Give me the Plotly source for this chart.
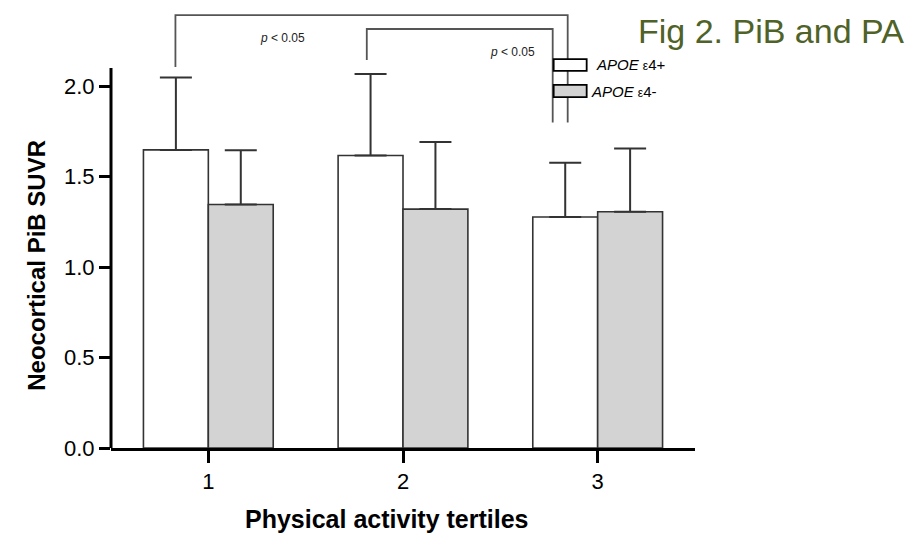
import plotly.graph_objects as go

tertiles = [1, 2, 3]
tick_labels = ["1", "2", "3"]
pos_mean = [1.647, 1.616, 1.276]   # APOE e4+
pos_sd = [0.40, 0.45, 0.30]
neg_mean = [1.345, 1.320, 1.305]   # APOE e4-
neg_sd = [0.30, 0.37, 0.35]
y_ticks = [0.0, 0.5, 1.0, 1.5, 2.0]
y_tick_text = ["0.0", "0.5", "1.0", "1.5", "2.0"]

# significance brackets: (x_left, y_left_bottom, x_right, y_right_bottom, y_top, label, label_x)
brackets = [
    (0.831, 2.105, 2.846, 1.798, 2.392, "<i>p</i> < 0.05", 1.38),
    (1.814, 2.144, 2.769, 1.798, 2.315, "<i>p</i> < 0.05", 2.56),
]

FONT = "Liberation Sans, Arial, sans-serif"
EDGE = "#333333"

fig = go.Figure()
fig.add_trace(go.Bar(
    x=tertiles, y=pos_mean, name="APOE ε4+",
    marker=dict(color="white", line=dict(color=EDGE, width=1.6)),
    error_y=dict(type="data", array=pos_sd, arrayminus=[0] * 3, symmetric=False,
                 thickness=2, width=16, color=EDGE),
))
fig.add_trace(go.Bar(
    x=tertiles, y=neg_mean, name="APOE ε4-",
    marker=dict(color="#d3d3d3", line=dict(color=EDGE, width=1.6)),
    error_y=dict(type="data", array=neg_sd, arrayminus=[0] * 3, symmetric=False,
                 thickness=2, width=16, color=EDGE),
))

shapes = []
annotations = []
# y axis line (stops just above 2.0)
shapes.append(dict(type="line", xref="paper", yref="y", x0=0, x1=0, y0=0, y1=2.10,
                   line=dict(color="black", width=3), layer="above"))
for xl, yl, xr, yr, yt, lab, lx in brackets:
    shapes.append(dict(type="path", xref="x", yref="y",
                       path=f"M {xl},{yl} L {xl},{yt} L {xr},{yt} L {xr},{yr}",
                       line=dict(color="#555555", width=1.8)))
    annotations.append(dict(x=lx, y=yt - 0.125, xref="x", yref="y", text=lab, showarrow=False,
                            xanchor="center", yanchor="middle",
                            font=dict(family=FONT, size=12, color="#222")))

# legend (drawn manually)
leg = [("white", "<i>APOE</i> <span style='font-size:12px'>ε</span>4+", 0.888, 0.861, 0.827),
       ("#d3d3d3", "<i>APOE</i> <span style='font-size:12px'>ε</span>4-", 0.829, 0.801, 0.819)]
for col, txt, y1, y0, tx in leg:
    shapes.append(dict(type="rect", xref="paper", yref="paper", x0=0.758, x1=0.8145, y0=y0, y1=y1,
                       fillcolor=col, line=dict(color="black", width=1.8), layer="above"))
    annotations.append(dict(x=tx, y=(y0 + y1) / 2,
                            xref="paper", yref="paper", xanchor="left", yanchor="middle",
                            text=txt, showarrow=False, font=dict(family=FONT, size=15, color="black")))

annotations.append(dict(x=-0.127, y=0.418, xref="paper", yref="paper", textangle=-90,
                        xanchor="center", yanchor="middle",
                        text="<b>Neocortical PiB SUVR</b>", showarrow=False,
                        font=dict(family=FONT, size=24, color="black")))
annotations.append(dict(x=0.471, y=-0.163, xref="paper", yref="paper",
                        xanchor="center", yanchor="middle",
                        text="<b>Physical activity tertiles</b>", showarrow=False,
                        font=dict(family=FONT, size=25, color="black")))
annotations.append(dict(x=1.130, y=0.952, xref="paper", yref="paper",
                        xanchor="center", yanchor="middle",
                        text="Fig 2. PiB and PA", showarrow=False,
                        font=dict(family=FONT, size=34, color="#4F6228")))

fig.update_layout(
    width=918, height=537,
    margin=dict(l=110.75, r=223.25, t=10, b=88.5),
    paper_bgcolor="white", plot_bgcolor="white",
    barmode="group", bargap=1 / 3, bargroupgap=0,
    showlegend=False, hovermode=False,
    shapes=shapes, annotations=annotations,
    font=dict(family=FONT, color="black"),
    xaxis=dict(range=[0.5, 3.5], tickvals=tertiles, ticktext=tick_labels,
               showline=True, linecolor="black", linewidth=3,
               ticks="outside", ticklen=12, tickwidth=3, tickcolor="black",
               tickfont=dict(size=22), showgrid=False, zeroline=False),
    yaxis=dict(range=[0, 2.42], tickvals=y_ticks, ticktext=y_tick_text,
               showline=False, ticks="outside", ticklen=11, tickwidth=2.5, tickcolor="black",
               tickfont=dict(size=22), showgrid=False, zeroline=False),
)

fig.write_html("out.html")
